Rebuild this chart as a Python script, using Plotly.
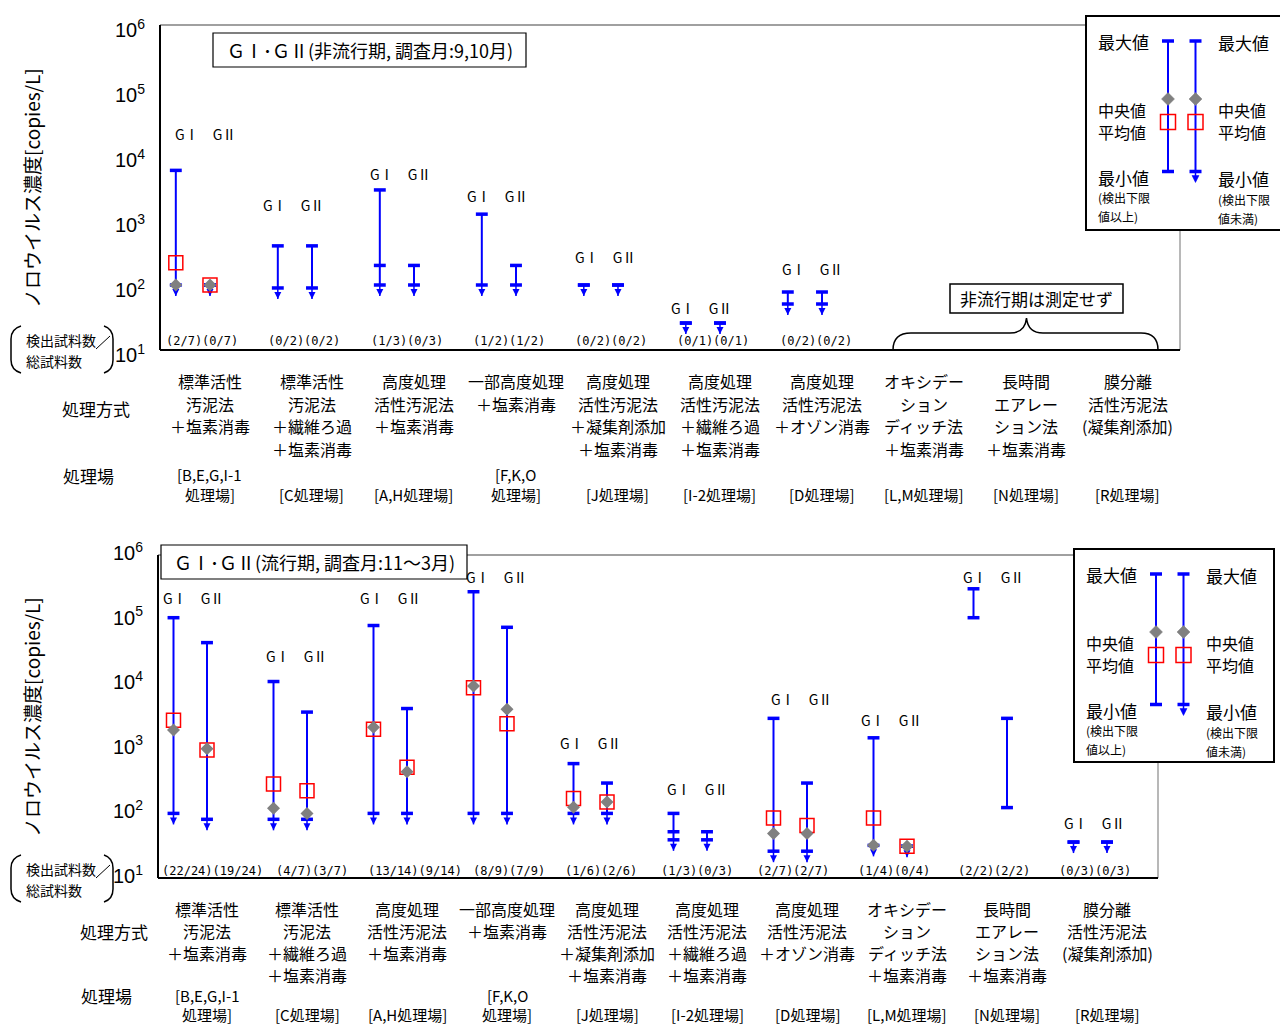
import math
import plotly.graph_objects as go

W, H = 1280, 1026
BLUE, RED, GREY, FRAME_GREY = "#0000FF", "#FF0000", "#808080", "#A0A0A0"
JP = "Noto Sans CJK JP"
MONO = "DejaVu Sans Mono"
NUM = "Liberation Sans"

# ---------------------------------------------------------------- data
methods = [
    "標準活性\n汚泥法\n＋塩素消毒",
    "標準活性\n汚泥法\n＋繊維ろ過\n＋塩素消毒",
    "高度処理\n活性汚泥法\n＋塩素消毒",
    "一部高度処理\n＋塩素消毒",
    "高度処理\n活性汚泥法\n＋凝集剤添加\n＋塩素消毒",
    "高度処理\n活性汚泥法\n＋繊維ろ過\n＋塩素消毒",
    "高度処理\n活性汚泥法\n＋オゾン消毒",
    "オキシデー\nション\nディッチ法\n＋塩素消毒",
    "長時間\nエアレー\nション法\n＋塩素消毒",
    "膜分離\n活性汚泥法\n(凝集剤添加)",
]
plants = [
    "[B,E,G,I-1\n処理場]", "[C処理場]", "[A,H処理場]", "[F,K,O\n処理場]", "[J処理場]",
    "[I-2処理場]", "[D処理場]", "[L,M処理場]", "[N処理場]", "[R処理場]",
]
tick_vals = [1e1, 1e2, 1e3, 1e4, 1e5, 1e6]
tick_text = ["10<sup>1</sup>", "10<sup>2</sup>", "10<sup>3</sup>",
             "10<sup>4</sup>", "10<sup>5</sup>", "10<sup>6</sup>"]

# Non-epidemic season (Sep, Oct) -- last three plant types not sampled
off_gi_max = [5800, 400, 2900, 1230, 100, 26, 78, None, None, None]
off_gi_min = [100, 90, 100, 100, 100, 26, 51, None, None, None]
off_gi_caps = [[], [], [200], [], [], [], [], [], [], []]
off_gi_mean = [220, None, None, None, None, None, None, None, None, None]
off_gi_median = [100, None, None, None, None, None, None, None, None, None]
off_gi_below = [True, True, True, True, True, True, True, False, False, False]

off_gii_max = [100, 400, 200, 200, 100, 26, 78, None, None, None]
off_gii_min = [100, 90, 100, 100, 100, 26, 51, None, None, None]
off_gii_caps = [[], [], [], [], [], [], [], [], [], []]
off_gii_mean = [100, None, None, None, None, None, None, None, None, None]
off_gii_median = [100, None, None, None, None, None, None, None, None, None]
off_gii_below = [True, True, True, True, True, True, True, False, False, False]

off_total = [7, 2, 3, 2, 2, 1, 2]
off_det_gi = [2, 0, 1, 1, 0, 0, 0]
off_det_gii = [0, 0, 0, 1, 0, 0, 0]

# Epidemic season (Nov - Mar)
on_gi_max = [107000, 11000, 81000, 270000, 590, 100, 2960, 1480, 300000, 36]
on_gi_min = [100, 81, 100, 100, 100, 39, 26, 32, 107000, 36]
on_gi_caps = [[], [], [], [], [], [52], [], [], [], []]
on_gi_mean = [2760, 285, 2000, 8800, 170, None, 85, 85, None, None]
on_gi_median = [1950, 120, 2150, 9400, 125, None, 49, 32, None, None]
on_gi_below = [True, True, True, True, True, True, True, True, False, True]

on_gii_max = [44000, 3700, 4200, 76000, 295, 52, 295, 31, 2960, 36]
on_gii_min = [81, 81, 100, 100, 100, 39, 26, 31, 123, 36]
on_gii_caps = [[], [], [], [], [], [], [], [], [], []]
on_gii_mean = [960, 225, 520, 2450, 150, None, 65, 31, None, None]
on_gii_median = [1000, 100, 440, 4100, 150, None, 49, 31, None, None]
on_gii_below = [True, True, True, True, True, True, True, True, False, True]

on_total = [24, 7, 14, 9, 6, 3, 7, 4, 2, 3]
on_det_gi = [22, 4, 13, 8, 1, 1, 2, 1, 2, 0]
on_det_gii = [19, 3, 9, 7, 2, 0, 2, 0, 2, 0]

# ---------------------------------------------------------------- layout geometry (page pixels)
FR_OFF = dict(l=160, r=1180, t=25, b=350)
FR_ON = dict(l=158, r=1158, t=555, b=878)
GI_OFF, GII_OFF = 0.155, 0.49          # column offsets inside a plant slot
ARROW_PX = 11                          # length of the "below detection limit" arrow

fig = go.Figure()
shapes, annos = [], []


def text_at(x, y, text, size=16, anchor="center", family=JP, xref="x3", **kw):
    annos.append(dict(x=x, y=y, xref=xref, yref="y3", text=text, showarrow=False,
                      xanchor=anchor, yanchor="middle",
                      font=dict(family=family, size=size, color="black"), **kw))


def seg(x0, y0, x1, y1, color="black", width=1.5, layer="above", dash=None):
    shapes.append(dict(type="line", xref="x3", yref="y3", x0=x0, y0=y0, x1=x1, y1=y1,
                       layer=layer, line=dict(color=color, width=width, dash=dash)))


def rect(x0, y0, x1, y1, color="black", width=1.5, fill="white"):
    shapes.append(dict(type="rect", xref="x3", yref="y3", x0=x0, y0=y0, x1=x1, y1=y1,
                       layer="above", fillcolor=fill, line=dict(color=color, width=width)))


def path(d, color="black", width=1.5, fill=None):
    s = dict(type="path", xref="x3", yref="y3", path=d, layer="above",
             line=dict(color=color, width=width))
    if fill:
        s["fillcolor"] = fill
    shapes.append(s)


def draw_panel(xa, ya, fr, series):
    decade_px = (fr["b"] - fr["t"]) / 5.0
    drop = 10 ** (-ARROW_PX / decade_px)
    lines, arrows, heads, caps, means, meds = [], [], [], [], [], []
    for s, off in series:
        lx, ly, cx, cy, mx, my, dx, dy = [], [], [], [], [], [], [], []
        ax_, ay_, hx, hy = [], [], [], []
        for i, hi in enumerate(s["max"]):
            if hi is None:
                continue
            lo = s["min"][i]
            x = i + off
            lx += [x, x, None]
            ly += [hi, lo, None]
            for v in [hi, lo] + s["caps"][i]:
                cx.append(x)
                cy.append(v)
            if s["mean"][i] is not None:
                mx.append(x)
                my.append(s["mean"][i])
            if s["median"][i] is not None:
                dx.append(x)
                dy.append(s["median"][i])
            if s["below"][i]:
                ax_ += [x, x, None]
                ay_ += [lo, lo * drop, None]
                hx.append(x)
                hy.append(lo * drop)
        kw = dict(xaxis=xa, yaxis=ya, hoverinfo="skip", showlegend=False)
        lines.append(go.Scatter(x=lx, y=ly, mode="lines", line=dict(color=BLUE, width=2), **kw))
        arrows.append(go.Scatter(x=ax_, y=ay_, mode="lines", line=dict(color=BLUE, width=1.5), **kw))
        heads.append(go.Scatter(x=hx, y=hy, mode="markers",
                                marker=dict(symbol="arrow-down", size=7, color=BLUE,
                                            line=dict(width=0)), **kw))
        caps.append(go.Scatter(x=cx, y=cy, mode="markers",
                               marker=dict(symbol="line-ew", size=8.5,
                                           line=dict(color=BLUE, width=3.5)), **kw))
        means.append(go.Scatter(x=mx, y=my, mode="markers",
                                marker=dict(symbol="square-open", size=14, color=RED,
                                            line=dict(color=RED, width=1.5)), **kw))
        meds.append(go.Scatter(x=dx, y=dy, mode="markers",
                               marker=dict(symbol="diamond", size=10, color=GREY,
                                           line=dict(width=0)), **kw))
    for t in lines + arrows + heads + caps + means + meds:
        fig.add_trace(t)


def pack(mx, mn, caps, mean, med, below):
    return dict(max=mx, min=mn, caps=caps, mean=mean, median=med, below=below)


draw_panel("x", "y", FR_OFF, [
    (pack(off_gi_max, off_gi_min, off_gi_caps, off_gi_mean, off_gi_median, off_gi_below), GI_OFF),
    (pack(off_gii_max, off_gii_min, off_gii_caps, off_gii_mean, off_gii_median, off_gii_below), GII_OFF),
])
draw_panel("x2", "y2", FR_ON, [
    (pack(on_gi_max, on_gi_min, on_gi_caps, on_gi_mean, on_gi_median, on_gi_below), GI_OFF),
    (pack(on_gii_max, on_gii_min, on_gii_caps, on_gii_mean, on_gii_median, on_gii_below), GII_OFF),
])
# anchor trace for the full-page overlay axes
fig.add_trace(go.Scatter(x=[0], y=[0], mode="markers", marker=dict(opacity=0),
                         xaxis="x3", yaxis="y3", hoverinfo="skip", showlegend=False))

# ---------------------------------------------------------------- frames and grid
for fr, xa, ya, grid in ((FR_OFF, "x", "y", ("black", "black", "black", "black")),
                         (FR_ON, "x2", "y2", ("black", "#707070", "black", "#707070"))):
    for k, c in zip((5, 4, 3, 2), grid):
        shapes.append(dict(type="line", xref=f"{xa} domain", yref=ya, x0=0, x1=1, y0=k, y1=k,
                           layer="below",
                           line=dict(color=c, width=1.2 if c == "black" else 1.8,
                                     dash="8px,5px")))
    seg(fr["l"], fr["t"], fr["r"], fr["t"], FRAME_GREY, 2)
    seg(fr["r"], fr["t"], fr["r"], fr["b"], FRAME_GREY, 1.5)
    seg(fr["l"], fr["t"], fr["l"], fr["b"], "black", 2)
    seg(fr["l"], fr["b"], fr["r"], fr["b"], "black", 2)

# ---------------------------------------------------------------- titles
rect(213, 33, 526, 67, width=1.2)
text_at(370, 50, "ＧⅠ･ＧⅡ(非流行期, 調査月:9,10月)", size=18)
rect(161, 545, 467, 579, width=1.2)
text_at(314, 562, "ＧⅠ･ＧⅡ(流行期, 調査月:11～3月)", size=18)

for yc in (188, 717):
    text_at(31, yc, "ノロウイルス濃度[copies/L]", size=19, textangle=-90)

# "not measured" note with brace
rect(950, 284, 1123, 313, width=1.5)
text_at(1036.5, 298.5, "非流行期は測定せず", size=17)
path("M 893,350 Q 893,333 911,333 L 1010,333 Q 1025,333 1026.5,318 "
     "Q 1028,333 1043,333 L 1141,333 Q 1158,333 1158,350", width=1.5)

# detected / total samples note
for y0, yd in ((326, 0), (855, 529)):
    path(f"M 21,{y0} Q 11,{y0 + 3} 11,{y0 + 13} L 11,{y0 + 34} Q 11,{y0 + 44} 21,{y0 + 47}", width=1.5)
    path(f"M 104,{y0} Q 113,{y0 + 3} 113,{y0 + 13} L 113,{y0 + 34} Q 113,{y0 + 44} 104,{y0 + 47}", width=1.5)
    seg(96, 349 + yd, 110, 336 + yd, width=1)
    text_at(24, 340 + yd, "検出試料数", size=14, anchor="left")
    text_at(24, 361 + yd, "総試料数", size=14, anchor="left")

# counts under each column pair
off_count_x = [164, 266, 369, 471, 573, 675, 778]
on_count_x = [160, 274, 366, 471, 563, 659, 755, 856, 956, 1057]
for i, t in enumerate(off_total):
    text_at(off_count_x[i], 341, f"({off_det_gi[i]}/{t})({off_det_gii[i]}/{t})",
            size=12, anchor="left", family=MONO)
for i, t in enumerate(on_total):
    text_at(on_count_x[i], 871, f"({on_det_gi[i]}/{t})({on_det_gii[i]}/{t})",
            size=12, anchor="left", family=MONO)

# GI / GII column captions
off_cap_pos = [(173, 134), (261, 205), (368, 174), (465, 196), (573, 257), (669, 308), (780, 269)]
on_cap_pos = [(161, 598), (264, 656), (358, 598), (464, 577), (558, 743),
              (665, 789), (769, 699), (859, 720), (961, 577), (1062, 823)]
for x, y in off_cap_pos + on_cap_pos:
    text_at(x, y, "GⅠ　GⅡ", size=14, anchor="left")

# treatment method / plant labels
for xa, rows, prow, hdr in (("x", [381, 403.5, 426, 448.5], [474, 494], ((96, 408), (88, 475))),
                            ("x2", [909, 931, 953, 975], [995, 1014], ((114, 931), (106, 995)))):
    for i, (m, p) in enumerate(zip(methods, plants)):
        for k, ln in enumerate(m.split("\n")):
            text_at(i + GII_OFF, rows[k], ln, size=16, xref=xa)
        pl = p.split("\n")
        for k, ln in enumerate(pl):
            text_at(i + GII_OFF, prow[k + 2 - len(pl)], ln, size=15, xref=xa)
    text_at(hdr[0][0], hdr[0][1], "処理方式", size=17)
    text_at(hdr[1][0], hdr[1][1], "処理場", size=17)


# ---------------------------------------------------------------- keys
def key(x0, y0, x1, y1):
    rect(x0, y0, x1, y1, width=2)
    lx, rx = x0 + 82, x0 + 109.5
    ymax, ydia, ysq, ymin = y0 + 25, y0 + 83, y0 + 106, y0 + 155.5
    for xc in (lx, rx):
        seg(xc, ymax, xc, ymin, BLUE, 2)
        seg(xc - 6, ymax, xc + 6, ymax, BLUE, 3.5)
        seg(xc - 6, ymin, xc + 6, ymin, BLUE, 3.5)
        path(f"M {xc},{ydia - 6.5} L {xc + 6.5},{ydia} L {xc},{ydia + 6.5} L {xc - 6.5},{ydia} Z",
             color=GREY, width=0.5, fill=GREY)
        path(f"M {xc - 7.5},{ysq - 7.5} L {xc + 7.5},{ysq - 7.5} L {xc + 7.5},{ysq + 7.5} "
             f"L {xc - 7.5},{ysq + 7.5} Z", color=RED, width=1.5)
    # arrow under the right-hand whisker
    seg(rx, ymin, rx, ymin + ARROW_PX - 2, BLUE, 1.5)
    path(f"M {rx - 3.5},{ymin + ARROW_PX - 7} L {rx + 3.5},{ymin + ARROW_PX - 7} "
         f"L {rx},{ymin + ARROW_PX} Z", color=BLUE, width=0.5, fill=BLUE)
    for (dxl, dyl, t, sz) in ((10, 25, "最大値", 17), (10, 93.5, "中央値", 16),
                              (10, 115.5, "平均値", 16), (10, 161, "最小値", 17),
                              (10, 181, "(検出下限", 12), (10, 200, "値以上)", 12)):
        text_at(x0 + dxl, y0 + dyl, t, size=sz, anchor="left")
    for (dxl, dyl, t, sz) in ((130, 26.5, "最大値", 17), (130, 93.5, "中央値", 16),
                              (130, 116, "平均値", 16), (130, 162.5, "最小値", 17),
                              (130, 183, "(検出下限", 12), (130, 202, "値未満)", 12)):
        text_at(x0 + dxl, y0 + dyl, t, size=sz, anchor="left")


key(1086, 16, 1283, 230)
key(1074, 549, 1274, 762)


# ---------------------------------------------------------------- axes
def ydom(fr):
    return [1 - fr["b"] / H, 1 - fr["t"] / H]


def xdom(fr):
    return [fr["l"] / W, fr["r"] / W]


hidden = dict(visible=False, showticklabels=False, ticks="", showgrid=False,
              zeroline=False, fixedrange=True)
yax_common = dict(type="log", range=[1, 6], tickvals=tick_vals, ticktext=tick_text,
                  showgrid=False, zeroline=False, showline=False, ticks="",
                  ticklabelstandoff=14, tickfont=dict(family=NUM, size=20, color="black"),
                  fixedrange=True)
fig.update_layout(
    width=W, height=H, margin=dict(l=0, r=0, t=0, b=0, autoexpand=False),
    paper_bgcolor="white", plot_bgcolor="rgba(0,0,0,0)", showlegend=False,
    xaxis=dict(domain=xdom(FR_OFF), range=[0, 10], anchor="y", **hidden),
    yaxis=dict(domain=ydom(FR_OFF), anchor="x", ticklabelshift=5, **yax_common),
    xaxis2=dict(domain=xdom(FR_ON), range=[0, 10], anchor="y2", **hidden),
    yaxis2=dict(domain=ydom(FR_ON), anchor="x2", ticklabelshift=-2, **yax_common),
    xaxis3=dict(domain=[0, 1], range=[0, W], anchor="y3", **hidden),
    yaxis3=dict(domain=[0, 1], range=[H, 0], anchor="x3", **hidden),
    shapes=shapes, annotations=annos,
)

fig.write_html("out.html")
